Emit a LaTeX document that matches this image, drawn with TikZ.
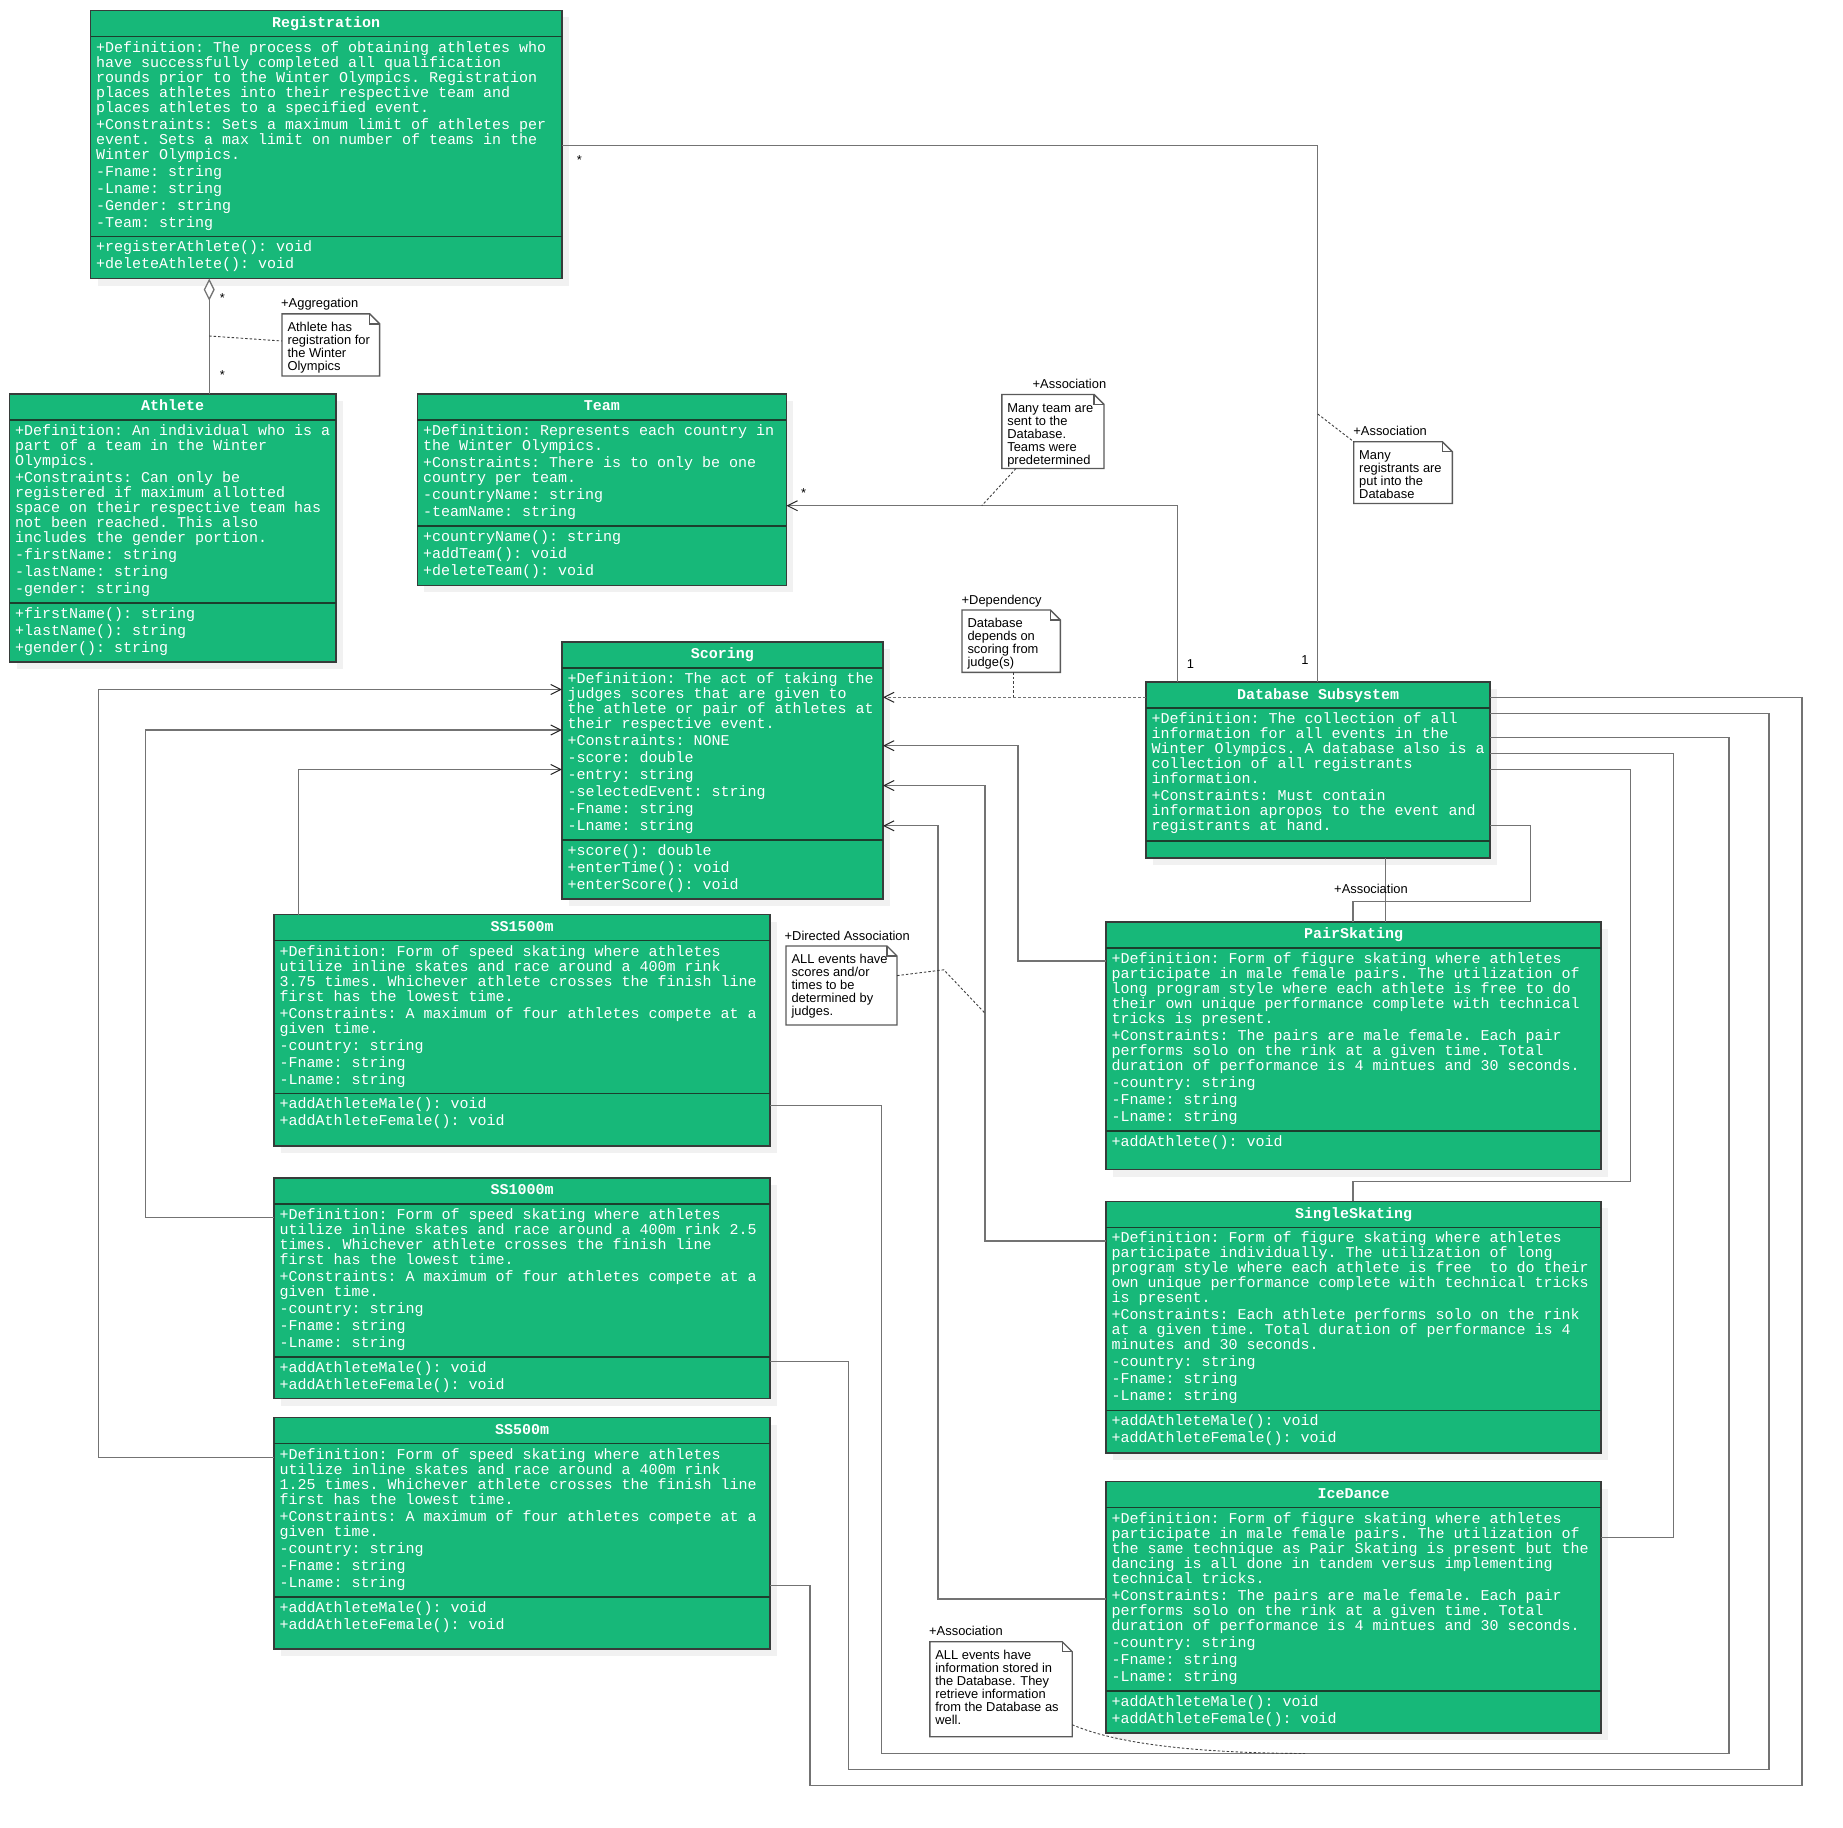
\documentclass[tikz,border=0pt]{standalone}
\usepackage{fontspec}
\setmainfont{Liberation Sans}
\setmonofont{Liberation Mono}
\usetikzlibrary{arrows.meta}
\definecolor{umlgreen}{RGB}{23,184,121}
\definecolor{boxline}{RGB}{55,60,58}
\definecolor{compcol}{RGB}{28,62,45}
\definecolor{conncol}{RGB}{115,115,115}
\definecolor{notecol}{RGB}{90,90,90}
\definecolor{shadowgray}{RGB}{241,241,241}

\newcommand\umlfont{\ttfamily\fontsize{15}{15}\selectfont\frenchspacing\lineskiplimit=-20pt\relax}
\newcommand\umltitlefont{\ttfamily\bfseries\fontsize{15}{15}\selectfont}
\newcommand\umlnotefont{\fontsize{12.9}{13}\selectfont\lineskiplimit=-20pt\relax}

\tikzset{
 classbox/.style={draw=boxline, line width=1.5pt, fill=umlgreen, inner sep=0pt, outer sep=0pt},
 compline/.style={draw=compcol, line width=1.6pt},
 titletext/.style={font=\umltitlefont, text=white, inner sep=0pt},
 bodytext/.style={font=\umlfont, text=white, inner sep=0pt, anchor=north west, align=left},
 conn/.style={draw=conncol, line width=1.3pt},
 openarrow/.style={-{Straight Barb[length=10pt,width=10pt,line width=1pt,color=black!85]}},
 notebox/.style={draw=notecol, line width=1.4pt, fill=white},
 notelink/.style={draw=black!75, line width=0.9pt, dash pattern=on 2.5pt off 2pt},
 notelabel/.style={font=\umlnotefont, inner sep=0pt, anchor=base west},
 notetext/.style={font=\umlnotefont, inner sep=0pt, anchor=north west, align=left},
 mult/.style={font=\umlnotefont, inner sep=0pt, anchor=base},
}

% #1 name, #2 x1, #3 y1, #4 x2, #5 y2, #6 ysep, #7 title, #8 attributes, #9 methods
\newcommand\umlclass[9]{%
  \pgfmathsetmacro\bw{#4-#2}\pgfmathsetmacro\bh{#5-#3}%
  \fill[shadowgray] ({#2+7},{#3+7}) rectangle ({#4+7},{#5+7});
  \node[classbox, minimum width=\bw pt, minimum height=\bh pt, anchor=north west] (#1) at (#2,#3) {};
  \draw[compline] (#2,{#3+26}) -- (#4,{#3+26});
  \draw[compline] (#2,#6) -- (#4,#6);
  \node[titletext, anchor=base] at ({(#2+#4)/2},{#3+17}) {#7};
  \node[bodytext] at ({#2+5.5},{#3+30.5}) {\strut #8};
  \node[bodytext] at ({#2+5.5},{#6+4.5}) {\strut #9};
}

% #1 name, #2 x1, #3 y1, #4 x2, #5 y2, #6 label x, #7 label, #8 text
\newcommand\umlnote[8]{%
  \pgfmathsetmacro\nw{#4-#2}\pgfmathsetmacro\nh{#5-#3}%
  \node[inner sep=0pt, outer sep=0pt, minimum width=\nw pt, minimum height=\nh pt, anchor=north west] (#1) at (#2,#3) {};
  \draw[notebox] (#1.north west) -- ([xshift=-10pt]#1.north east) -- ([yshift=-10pt]#1.north east) -- (#1.south east) -- (#1.south west) -- cycle;
  \draw[notebox, fill=none] ([xshift=-10pt]#1.north east) |- ([yshift=-10pt]#1.north east);
  \node[notelabel] at (#6,{#3-6}) {#7};
  \node[notetext] at ({#2+5.3},{#3+8.2}) {\strut #8};
}

\begin{document}
\begin{tikzpicture}[x=1pt,y=-1pt]
\fill[white] (0,0) rectangle (1843,1827);
\useasboundingbox (0,0) rectangle (1843,1827);

\umlclass{Reg}{90.5}{10.5}{561.8}{278.6}{236.4}{Registration}
{+Definition: The process of obtaining athletes who\\
have successfully completed all qualification\\
rounds prior to the Winter Olympics. Registration\\
places athletes into their respective team and\\
places athletes to a specified event.\\[2pt]
+Constraints: Sets a maximum limit of athletes per\\
event. Sets a max limit on number of teams in the\\
Winter Olympics.\\[2pt]
-Fname: string\\[2pt]
-Lname: string\\[2pt]
-Gender: string\\[2pt]
-Team: string}
{+registerAthlete(): void\\[2pt]
+deleteAthlete(): void}

\umlclass{Ath}{9.5}{393.8}{336}{661.8}{603.2}{Athlete}
{+Definition: An individual who is a\\
part of a team in the Winter\\
Olympics.\\[2pt]
+Constraints: Can only be\\
registered if maximum allotted\\
space on their respective team has\\
not been reached. This also\\
includes the gender portion.\\[2pt]
-firstName: string\\[2pt]
-lastName: string\\[2pt]
-gender: string}
{+firstName(): string\\[2pt]
+lastName(): string\\[2pt]
+gender(): string}

\umlclass{Team}{417.3}{393.8}{786.4}{585.3}{526}{Team}
{+Definition: Represents each country in\\
the Winter Olympics.\\[2pt]
+Constraints: There is to only be one\\
country per team.\\[2pt]
-countryName: string\\[2pt]
-teamName: string}
{+countryName(): string\\[2pt]
+addTeam(): void\\[2pt]
+deleteTeam(): void}

\umlclass{Sc}{561.8}{641.8}{883}{899.2}{840}{Scoring}
{+Definition: The act of taking the\\
judges scores that are given to\\
the athlete or pair of athletes at\\
their respective event.\\[2pt]
+Constraints: NONE\\[2pt]
-score: double\\[2pt]
-entry: string\\[2pt]
-selectedEvent: string\\[2pt]
-Fname: string\\[2pt]
-Lname: string}
{+score(): double\\[2pt]
+enterTime(): void\\[2pt]
+enterScore(): void}

\umlclass{DB}{1146}{682}{1490}{857.8}{841}{Database Subsystem}
{+Definition: The collection of all\\
information for all events in the\\
Winter Olympics. A database also is a\\
collection of all registrants\\
information.\\[2pt]
+Constraints: Must contain\\
information apropos to the event and\\
registrants at hand.}
{}

\umlclass{SSa}{274}{914.5}{770}{1146}{1093.3}{SS1500m}
{+Definition: Form of speed skating where athletes\\
utilize inline skates and race around a 400m rink\\
3.75 times. Whichever athlete crosses the finish line\\
first has the lowest time.\\[2pt]
+Constraints: A maximum of four athletes compete at a\\
given time.\\[2pt]
-country: string\\[2pt]
-Fname: string\\[2pt]
-Lname: string}
{+addAthleteMale(): void\\[2pt]
+addAthleteFemale(): void}

\umlclass{SSb}{274}{1177.8}{770}{1398.7}{1357}{SS1000m}
{+Definition: Form of speed skating where athletes\\
utilize inline skates and race around a 400m rink 2.5\\
times. Whichever athlete crosses the finish line\\
first has the lowest time.\\[2pt]
+Constraints: A maximum of four athletes compete at a\\
given time.\\[2pt]
-country: string\\[2pt]
-Fname: string\\[2pt]
-Lname: string}
{+addAthleteMale(): void\\[2pt]
+addAthleteFemale(): void}

\umlclass{SSc}{274}{1417.5}{770}{1649.1}{1596.8}{SS500m}
{+Definition: Form of speed skating where athletes\\
utilize inline skates and race around a 400m rink\\
1.25 times. Whichever athlete crosses the finish line\\
first has the lowest time.\\[2pt]
+Constraints: A maximum of four athletes compete at a\\
given time.\\[2pt]
-country: string\\[2pt]
-Fname: string\\[2pt]
-Lname: string}
{+addAthleteMale(): void\\[2pt]
+addAthleteFemale(): void}

\umlclass{Pair}{1106}{921.8}{1601}{1169.6}{1131}{PairSkating}
{+Definition: Form of figure skating where athletes\\
participate in male female pairs. The utilization of\\
long program style where each athlete is free to do\\
their own unique performance complete with technical\\
tricks is present.\\[2pt]
+Constraints: The pairs are male female. Each pair\\
performs solo on the rink at a given time. Total\\
duration of performance is 4 mintues and 30 seconds.\\[2pt]
-country: string\\[2pt]
-Fname: string\\[2pt]
-Lname: string}
{+addAthlete(): void}

\umlclass{Single}{1106}{1201.3}{1601}{1452.8}{1410.3}{SingleSkating}
{+Definition: Form of figure skating where athletes\\
participate individually. The utilization of long\\
program style where each athlete is free\ \ to do their\\
own unique performance complete with technical tricks\\
is present.\\[2pt]
+Constraints: Each athlete performs solo on the rink\\
at a given time. Total duration of performance is 4\\
minutes and 30 seconds.\\[2pt]
-country: string\\[2pt]
-Fname: string\\[2pt]
-Lname: string}
{+addAthleteMale(): void\\[2pt]
+addAthleteFemale(): void}

\umlclass{Ice}{1106}{1481.5}{1601}{1732.8}{1691}{IceDance}
{+Definition: Form of figure skating where athletes\\
participate in male female pairs. The utilization of\\
the same technique as Pair Skating is present but the\\
dancing is all done in tandem versus implementing\\
technical tricks.\\[2pt]
+Constraints: The pairs are male female. Each pair\\
performs solo on the rink at a given time. Total\\
duration of performance is 4 mintues and 30 seconds.\\[2pt]
-country: string\\[2pt]
-Fname: string\\[2pt]
-Lname: string}
{+addAthleteMale(): void\\[2pt]
+addAthleteFemale(): void}

% ---- connectors ----
\draw[conn, {Diamond[length=22pt,width=11pt,fill=white]}-] (Reg.south -| 209.2,0) -- (Ath.north -| 209.2,0);
\draw[conn] (Reg.east |- 0,145.7) -- (1317.7,145.7) -- (DB.north -| 1317.7,0);
\draw[conn, openarrow] (DB.north -| 1177.7,0) -- (1177.7,505.7) -- (Team.east |- 0,505.7);
\draw[conn, line width=1.2pt, dash pattern=on 3pt off 2pt, openarrow] (DB.west |- 0,697.3) -- (Sc.east |- 0,697.3);

\draw[conn, openarrow] (SSa.north -| 298.6,0) -- (298.6,769.5) -- (Sc.west |- 0,769.5);
\draw[conn, openarrow] (SSb.west |- 0,1217.7) -- (145.7,1217.7) -- (145.7,730) -- (Sc.west |- 0,730);
\draw[conn, openarrow] (SSc.west |- 0,1457.7) -- (98.7,1457.7) -- (98.7,689.5) -- (Sc.west |- 0,689.5);

\draw[conn, openarrow] (Pair.west |- 0,961) -- (1017.9,961) -- (1017.9,745.7) -- (Sc.east |- 0,745.7);
\draw[conn, openarrow] (Single.west |- 0,1241) -- (985,1241) -- (985,785.5) -- (Sc.east |- 0,785.5);
\draw[conn, openarrow] (Ice.west |- 0,1599) -- (938,1599) -- (938,825.8) -- (Sc.east |- 0,825.8);

\draw[conn] (DB.east |- 0,697.3) -- (1801.9,697.3) -- (1801.9,1785.4) -- (809.9,1785.4) -- (809.9,1585.8) -- (SSc.east |- 0,1585.8);
\draw[conn] (DB.east |- 0,713.3) -- (1769,713.3) -- (1769,1769.5) -- (848.6,1769.5) -- (848.6,1361.5) -- (SSb.east |- 0,1361.5);
\draw[conn] (DB.east |- 0,737.7) -- (1729,737.7) -- (1729,1753.5) -- (881.6,1753.5) -- (881.6,1105.5) -- (SSa.east |- 0,1105.5);
\draw[conn] (DB.east |- 0,753.3) -- (1673.8,753.3) -- (1673.8,1537.4) -- (Ice.east |- 0,1537.4);
\draw[conn] (DB.east |- 0,769.3) -- (1630.3,769.3) -- (1630.3,1181.3) -- (1352.9,1181.3) -- (Single.north -| 1352.9,0);
\draw[conn] (DB.east |- 0,825.7) -- (1530.4,825.7) -- (1530.4,901.7) -- (1352.9,901.7) -- (Pair.north -| 1352.9,0);
\draw[conn] (DB.south -| 1385.8,0) -- (Pair.north -| 1385.8,0);

% ---- multiplicities and labels ----
\node[mult] (m1) at (222.3,302.7) {*};
\node[mult] (m2) at (222.3,379.7) {*};
\node[mult] (m3) at (579.5,164.5) {*};
\node[mult] (m4) at (803.5,497) {*};
\node[mult] (m5) at (1190.5,668) {1};
\node[mult] (m6) at (1305,664) {1};
\node[notelabel] (lbl) at (1334,893) {+Association};

% ---- notes ----
\umlnote{n1}{282}{313.8}{379.6}{376}{281}{+Aggregation}{Athlete has\\registration for\\the Winter\\Olympics}
\umlnote{n2}{1001.8}{394.5}{1104}{468.5}{1032.5}{+Association}{Many team are\\sent to the\\Database.\\Teams were\\predetermined}
\umlnote{n3}{1353.7}{441.7}{1452.3}{503.5}{1353.2}{+Association}{Many\\registrants are\\put into the\\Database}
\umlnote{n4}{962}{610}{1060.3}{672.3}{961.5}{+Dependency}{Database\\depends on\\scoring from\\judge(s)}
\umlnote{n5}{786}{946}{897}{1025}{784.5}{+Directed Association}{ALL events have\\scores and/or\\times to be\\determined by\\judges.}
\umlnote{n6}{929.8}{1641.7}{1072.2}{1736.7}{929}{+Association}{ALL events have\\information stored in\\the Database. They\\retrieve information\\from the Database as\\well.}

% ---- note links ----
\coordinate (agglink) at (209.2,336);
\draw[notelink] (agglink) -- (n1.west |- 0,341);
\coordinate (teamlink) at (981.7,505.7);
\draw[notelink] (n2.south -| 1016,0) -- (teamlink);
\coordinate (reglink) at (1317.7,414);
\draw[notelink] (reglink) -- (n3.north west);
\coordinate (deplink) at (1013.2,697.3);
\draw[notelink] (n4.south -| 1013.2,0) -- (deplink);
\coordinate (dirbend) at (943.8,969.8);
\coordinate (dirlink) at (985,1013.2);
\draw[notelink] (n5.east |- 0,975.6) -- (dirbend) -- (dirlink);
\coordinate (evlink) at (1305,1753.5);
\draw[notelink] (n6.east |- 0,1724.7) .. controls (1110,1741) and (1180,1753) .. (evlink);
\end{tikzpicture}
\end{document}
